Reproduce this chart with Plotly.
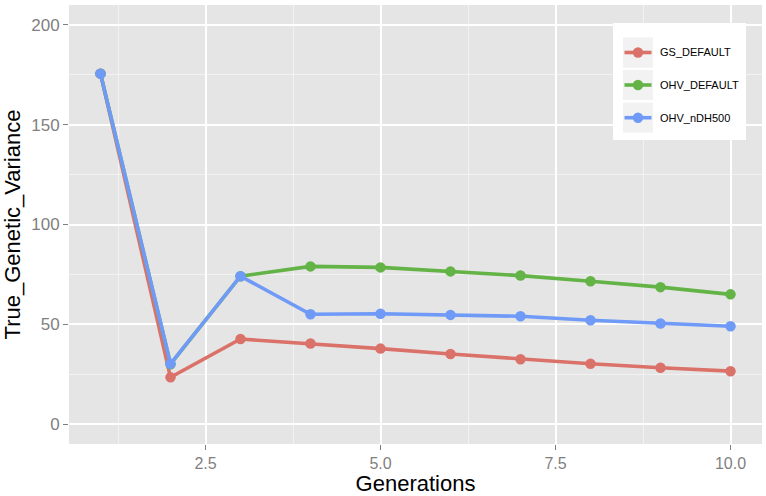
import plotly.graph_objects as go

generations = [1, 2, 3, 4, 5, 6, 7, 8, 9, 10]
series_names = ["GS_DEFAULT", "OHV_DEFAULT", "OHV_nDH500"]
gs_default = [175.6, 23.4, 42.6, 40.4, 37.8, 35.1, 32.5, 30.2, 28.2, 26.5]
ohv_default = [175.6, 30.0, 74.1, 79.0, 78.5, 76.5, 74.4, 71.6, 68.6, 65.0]
ohv_ndh500 = [175.6, 30.2, 74.1, 55.0, 55.3, 54.7, 54.0, 52.0, 50.4, 49.0]
series_values = [gs_default, ohv_default, ohv_ndh500]
colors = ["#DB726A", "#63B346", "#6F9AF7"]

x_tickvals = [2.5, 5.0, 7.5, 10.0]
x_ticktext = ["2.5", "5.0", "7.5", "10.0"]
x_minor = [1.25, 3.75, 6.25, 8.75]
y_tickvals = [0, 50, 100, 150, 200]
y_minor = [25, 75, 125, 175]

W, H = 766, 496
ML, MR, MT, MB = 69, 4, 5, 52
PW, PH = W - ML - MR, H - MT - MB
FONT = "Arial, Liberation Sans, Helvetica, sans-serif"


def px(xp):
    return (xp - ML) / PW


def py(yp):
    return (H - MB - yp) / PH


fig = go.Figure()
for name, vals, col in zip(series_names, series_values, colors):
    fig.add_trace(go.Scatter(
        x=generations, y=vals, name=name, mode="lines+markers",
        line=dict(color=col, width=3.6),
        marker=dict(color=col, size=10.5),
        showlegend=False,
    ))

shapes = []
annotations = []
# legend box
shapes.append(dict(type="rect", xref="paper", yref="paper", layer="above",
                   x0=px(613), x1=px(746), y0=py(140), y1=py(23),
                   fillcolor="white", line=dict(width=0)))
rows = [(37.3, 67.7), (70.0, 100.0), (102.7, 132.7)]
for (r0, r1), name, col in zip(rows, series_names, colors):
    cy = (r0 + r1) / 2
    shapes.append(dict(type="rect", xref="paper", yref="paper", layer="above",
                       x0=px(623), x1=px(653), y0=py(r1), y1=py(r0),
                       fillcolor="#F2F2F2", line=dict(width=0)))
    shapes.append(dict(type="line", xref="paper", yref="paper", layer="above",
                       x0=px(624.5), x1=px(651.5), y0=py(cy), y1=py(cy),
                       line=dict(color=col, width=3.6)))
    shapes.append(dict(type="circle", xref="paper", yref="paper", layer="above",
                       x0=px(632.8), x1=px(643.2), y0=py(cy + 5.2), y1=py(cy - 5.2),
                       fillcolor=col, line=dict(width=0)))
    annotations.append(dict(text=name, xref="paper", yref="paper",
                            x=px(658), y=py(cy), xanchor="left", yanchor="middle",
                            showarrow=False, font=dict(size=11, color="black", family=FONT)))

fig.update_layout(
    width=W, height=H,
    margin=dict(l=ML, r=MR, t=MT, b=MB),
    paper_bgcolor="white", plot_bgcolor="#E5E5E5",
    font=dict(family=FONT),
    shapes=shapes, annotations=annotations,
    showlegend=False,
)
fig.update_xaxes(
    range=[0.55, 10.45], tickvals=x_tickvals, ticktext=x_ticktext,
    ticks="outside", ticklen=5, tickwidth=1.2, tickcolor="#7F7F7F",
    tickfont=dict(size=16, color="#7F7F7F"),
    showgrid=True, gridcolor="white", gridwidth=1.8,
    minor=dict(tickvals=x_minor, showgrid=True, gridcolor="#F2F2F2", gridwidth=0.8, ticks=""),
    zeroline=False, showline=False, automargin=False,
    title=dict(text="Generations", font=dict(size=22, color="black"), standoff=5),
)
fig.update_yaxes(
    range=[-10, 210], tickvals=y_tickvals,
    ticks="outside", ticklen=5, tickwidth=1.2, tickcolor="#7F7F7F",
    tickfont=dict(size=17, color="#7F7F7F"),
    showgrid=True, gridcolor="white", gridwidth=1.8,
    minor=dict(tickvals=y_minor, showgrid=True, gridcolor="#F2F2F2", gridwidth=0.8, ticks=""),
    zeroline=False, showline=False, automargin=False,
    title=dict(text="True_Genetic_Variance", font=dict(size=22, color="black"), standoff=6),
)

fig.write_html(
    "out.html",
    config={"displayModeBar": False},
    post_script="document.body.style.margin='0';document.body.style.padding='0';",
)
